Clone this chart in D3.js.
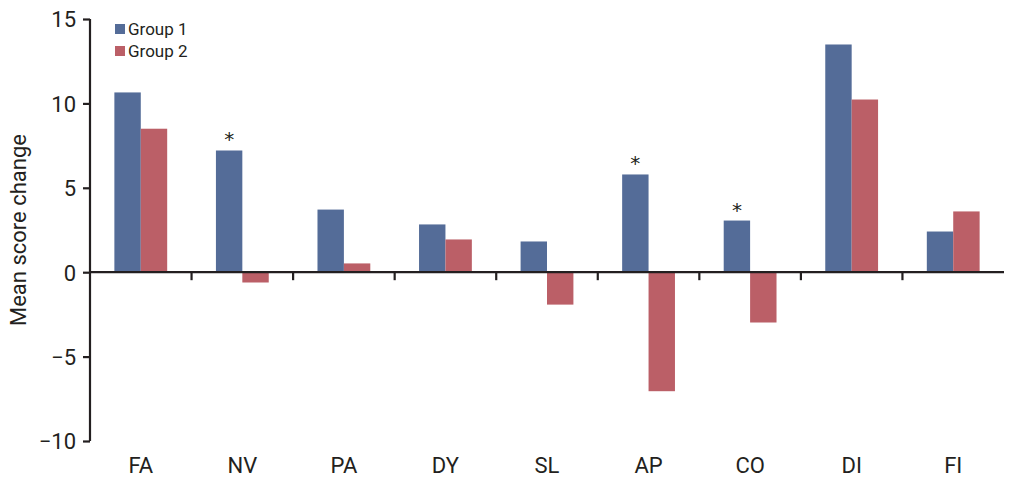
<!DOCTYPE html>
<html><head><meta charset="utf-8">
<script src="https://cdn.jsdelivr.net/npm/d3@7"></script>
<style>
body{margin:0;background:#fff;}
text{font-family:"Liberation Sans Narrow","Roboto","Liberation Sans",sans-serif;fill:#231f20;}
</style></head>
<body><svg id="c" width="1016" height="487"></svg>
<script>
const categories = ["FA","NV","PA","DY","SL","AP","CO","DI","FI"];
const seriesNames = ["Group 1","Group 2"];
const group1 = [10.65, 7.21, 3.71, 2.83, 1.82, 5.79, 3.06, 13.49, 2.41];
const group2 = [8.5, -0.61, 0.52, 1.94, -1.92, -7.05, -2.98, 10.23, 3.6];
const significant = ["NV","AP","CO"];
const yTicks = [-10,-5,0,5,10,15];
const colors = ["#546c98","#bb5f67"];

const svg = d3.select("#c");
const x0 = d3.scaleBand().domain(categories).range([90,1004]).paddingInner(0.48).paddingOuter(0.24);
const x1 = d3.scaleBand().domain(seriesNames).range([0,x0.bandwidth()]);
const y = d3.scaleLinear().domain([-10,15]).range([441,19]);
const dark = "#231f20";

const groups = svg.append("g").selectAll("g").data(categories).join("g")
  .attr("transform", d => `translate(${x0(d)},0)`);
groups.selectAll("rect").data((d,i)=>[{s:seriesNames[0],v:group1[i]},{s:seriesNames[1],v:group2[i]}])
  .join("rect")
  .attr("x", d => x1(d.s)).attr("width", x1.bandwidth())
  .attr("y", d => y(Math.max(0,d.v))).attr("height", d => Math.abs(y(d.v)-y(0)))
  .attr("fill", (d,i)=>colors[i]);

// asterisks
svg.append("g").selectAll("text").data(significant).join("text")
  .attr("x", d => x0(d)+x1(seriesNames[0])+x1.bandwidth()/2)
  .attr("y", d => y(group1[categories.indexOf(d)]) - 4)
  .attr("text-anchor","middle").style("font-size","20px").style("font-family","DejaVu Sans")
  .text("*");

// zero line with category boundary ticks
const boundaries = d3.range(categories.length+1).map(i => 90 + i*x0.step());
svg.append("line").attr("x1",90).attr("x2",1004).attr("y1",y(0)).attr("y2",y(0))
  .attr("stroke",dark).attr("stroke-width",2.2);
svg.append("g").selectAll("line").data(boundaries.slice(1,-1)).join("line")
  .attr("x1",d=>d).attr("x2",d=>d).attr("y1",y(0)).attr("y2",y(0)+8)
  .attr("stroke",dark).attr("stroke-width",2.2);

// y axis
const yAxis = d3.axisLeft(y).tickValues(yTicks).tickSize(7).tickPadding(7)
  .tickFormat(d => d<0 ? "\u2212"+Math.abs(d) : d);
const ga = svg.append("g").attr("transform","translate(90,0)").call(yAxis);
ga.select(".domain").attr("stroke",dark).attr("stroke-width",2.2).attr("d",`M0,${y(15)}V${y(-10)}`);
ga.selectAll(".tick line").attr("stroke",dark).attr("stroke-width",2.2);
ga.selectAll(".tick text").style("font-size","22px").attr("fill",dark).attr("dy","0.36em");

// category labels
svg.append("g").selectAll("text").data(categories).join("text")
  .attr("x", d => x0(d)+x0.bandwidth()/2).attr("y",473)
  .attr("text-anchor","middle").style("font-size","22px").text(d=>d);

// y label
svg.append("text").attr("transform","translate(26,230) rotate(-90)")
  .attr("text-anchor","middle").style("font-size","22px").text("Mean score change");

// legend
const lg = svg.append("g").selectAll("g").data(seriesNames).join("g")
  .attr("transform",(d,i)=>`translate(115,${24+i*22})`);
lg.append("rect").attr("width",10).attr("height",10).attr("fill",(d,i)=>colors[i]);
lg.append("text").attr("x",13).attr("y",11).style("font-size","17px").text(d=>d);
</script></body></html>
